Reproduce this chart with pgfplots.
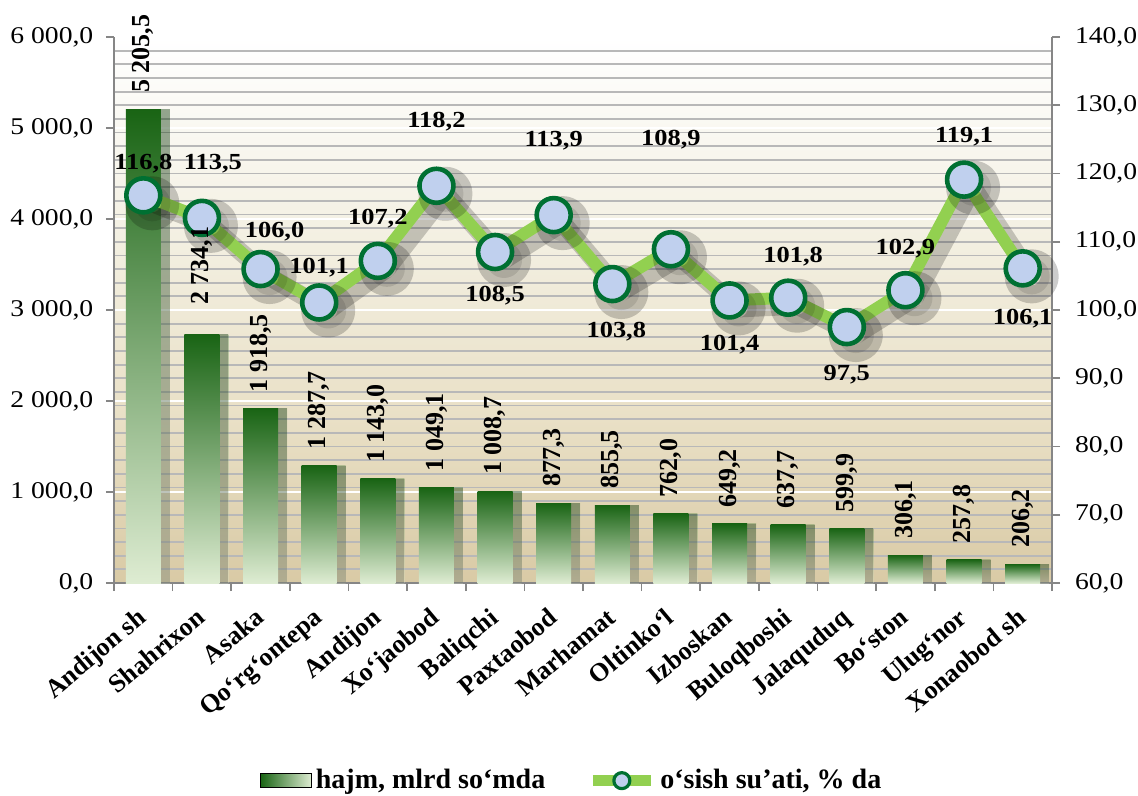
\documentclass[border=0pt]{standalone}
\usepackage{pgfplots}
\usepackage{pgfplotstable}
\pgfplotsset{compat=1.18}
\usepackage{fontspec}
\setmainfont{Liberation Serif}
\definecolor{barD}{RGB}{25,100,20}
\definecolor{barM}{RGB}{112,162,82}
\definecolor{barL}{RGB}{222,236,210}
\definecolor{bgB}{RGB}{217,202,165}
\definecolor{bgM1}{RGB}{233,224,198}
\definecolor{bgM2}{RGB}{244,241,228}
\definecolor{lineG}{RGB}{146,208,80}
\definecolor{markE}{RGB}{0,112,50}
\definecolor{markF}{RGB}{192,208,238}
\definecolor{axGray}{RGB}{134,134,134}
\definecolor{gridGray}{RGB}{184,184,184}
\pgfdeclareverticalshading{bgshade}{100bp}{color(0bp)=(bgB); color(25bp)=(bgB); color(40bp)=(bgM1); color(58bp)=(bgM2); color(75bp)=(white); color(100bp)=(white)}

\pgfplotstableread{
x hajm lo
0 5205.5 8
1 2734.1 14.5
2 1918.5 8
3 1287.7 8
4 1143.0 8
5 1049.1 8
6 1008.7 8
7 877.3 8
8 855.5 8
9 762.0 8
10 649.2 8
11 637.7 8
12 599.9 8
13 306.1 8
14 257.8 8
15 206.2 8
}\hajmtable

\pgfplotstableread{
x rate dy dx
0 116.8 16 0
1 113.5 27 5.5
2 106.0 18.5 7
3 101.1 17.5 0
4 107.2 21 0
5 118.2 32 0
6 108.5 -22 0
7 113.9 37 0
8 103.8 -24 2
9 108.9 55 0
10 101.4 -22 0
11 101.8 20.5 2.5
12 97.5 -24 0
13 102.9 21 0
14 119.1 21.5 0
15 106.1 -25 0
}\ratetable

\pgfplotsset{
  common/.style={
    at={(0,0)}, anchor=south west,
    scale only axis, width=469pt, height=273pt,
    xmin=-0.5, xmax=15.5,
    clip=false,
    axis line style={draw=axGray, line width=0.8pt},
    tick align=outside,
    major tick length=4pt,
    tick style={draw=axGray, line width=0.8pt},
    /pgf/number format/assume math mode=true,
    /pgf/number format/fixed,
    /pgf/number format/fixed zerofill,
    /pgf/number format/precision=1,
    /pgf/number format/use comma,
    /pgf/number format/1000 sep={\ },
  }
}

\begin{document}
\begin{tikzpicture}
% bars, left axis
\begin{axis}[
  common,
  ymin=0, ymax=6000,
  axis x line*=bottom, axis y line*=left,
  axis background/.style={shade, shading=bgshade},
  ytick={0,1000,...,6000},
  minor ytick={0,150,...,6000},
  minor y tick style={draw=none},
  ymajorgrids, yminorgrids,
  major grid style={draw=white, line width=1pt},
  minor grid style={draw=gridGray, line width=0.9pt},
  yticklabel style={font=\fontsize{12}{14}\selectfont, xscale=1.15, xshift=-2pt},
  xtick={0,...,15},
  major x tick style={draw=none},
  minor xtick={-0.5,0.5,...,15.5},
  minor tick length=4pt,
  xticklabels={Andijon sh, Shahrixon, Asaka, Qo‘rg‘ontepa, Andijon, Xo‘jaobod, Baliqchi, Paxtaobod, Marhamat, Oltinko‘l, Izboskan, Buloqboshi, Jalaquduq, Bo‘ston, Ulug‘nor, Xonaobod sh},
  xticklabel style={font=\bfseries\fontsize{13}{15}\selectfont, xshift=-3.4pt, yshift=-6.2pt, rotate=40, anchor=north east, inner sep=1pt},
]
\pgfplotsinvokeforeach{0,...,15}{
\addplot[
  ybar, bar width=17.5pt, bar shift=0pt, draw=none,
  top color=barD, middle color=barM, bottom color=barL,
  preaction={fill=black, fill opacity=0.25, transform canvas={xshift=4.5pt}},
  restrict x to domain=#1:#1,
] table[x=x, y=hajm] {\hajmtable};
}
\end{axis}

% growth rate, right axis
\begin{axis}[
  common,
  ymin=60, ymax=140,
  axis x line=none, axis y line*=right,
  ytick={60,70,...,140},
  yticklabel style={font=\fontsize{12}{14}\selectfont, xscale=1.15, xshift=3pt},
  legend style={at={(0.489,-0.362)}, anchor=center, legend columns=2, draw=none, fill=none,
    font=\bfseries\fontsize{14}{16}\selectfont,
    /tikz/every even column/.append style={column sep=19pt}},
]
\addlegendimage{legend image code/.code={\fill[left color=barD, right color=barL] (0pt,-3.5pt) rectangle (25.5pt,3.5pt);}}
\addlegendentry{hajm, mlrd so‘mda}
\addplot[
  forget plot, draw=black, draw opacity=0.2, line width=9pt, line join=round,
  xshift=4.5pt, yshift=-4pt,
  mark=*, mark size=9pt, mark options={draw=none, fill=black, fill opacity=0.1},
] table[x=x, y=rate] {\ratetable};
\addplot[
  color=lineG, line width=6pt, line join=round,
  mark=*, mark size=8.5pt,
  mark options={fill=markF, draw=markE, line width=2.3pt},
  legend image code/.code={\draw[lineG, line width=5.5pt] (0pt,0pt) -- (29pt,0pt); \draw[draw=markE, fill=markF, line width=1.6pt] (14.5pt,0pt) circle (4pt);},
  nodes near coords,
  visualization depends on={\thisrow{dy} \as \ldy},
  visualization depends on={\thisrow{dx} \as \ldx},
  every node near coord/.append style={text=black, font=\bfseries\fontsize{11.5}{13}\selectfont, anchor=center, yshift=\ldy pt, xshift=\ldx pt, xscale=1.15},
] table[x=x, y=rate] {\ratetable};
\addlegendentry{o‘sish su’ati, \% da}
\end{axis}

% bar value labels on top
\begin{axis}[
  common,
  ymin=0, ymax=6000,
  hide axis,
]
\addplot[
  draw=none, mark=none,
  nodes near coords,
  visualization depends on={\thisrow{lo} \as \blo},
  every node near coord/.append style={text=black, font=\bfseries\fontsize{13}{15}\selectfont, yshift=\blo pt, rotate=90, anchor=west, inner sep=0pt},
] table[x=x, y=hajm] {\hajmtable};
\end{axis}
\pgfresetboundingbox
\path[use as bounding box] (-57pt,-106.5pt) rectangle (512pt,291.5pt);
\end{tikzpicture}
\end{document}
